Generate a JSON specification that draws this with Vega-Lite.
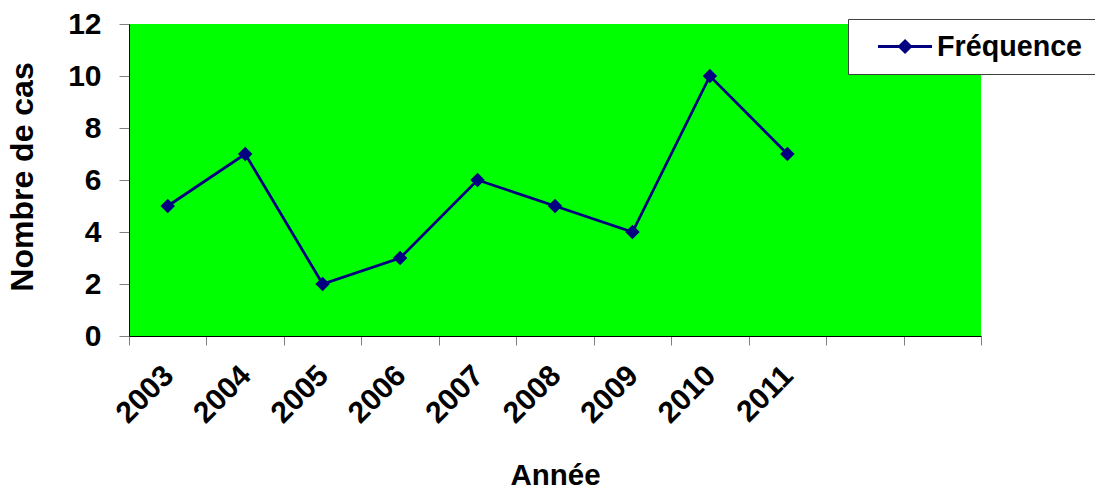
{
  "$schema": "https://vega.github.io/schema/vega-lite/v6.json",
  "width": 852,
  "height": 312,
  "autosize": {"type": "none"},
  "padding": {"left": 129, "top": 24, "right": 114, "bottom": 154},
  "background": "white",
  "config": {
    "font": "Liberation Sans",
    "view": {"fill": "#00FF00", "stroke": null}
  },
  "data": {
    "values": [
      {"annee": "2003", "cas": 5, "serie": "Fréquence"},
      {"annee": "2004", "cas": 7, "serie": "Fréquence"},
      {"annee": "2005", "cas": 2, "serie": "Fréquence"},
      {"annee": "2006", "cas": 3, "serie": "Fréquence"},
      {"annee": "2007", "cas": 6, "serie": "Fréquence"},
      {"annee": "2008", "cas": 5, "serie": "Fréquence"},
      {"annee": "2009", "cas": 4, "serie": "Fréquence"},
      {"annee": "2010", "cas": 10, "serie": "Fréquence"},
      {"annee": "2011", "cas": 7, "serie": "Fréquence"}
    ]
  },
  "mark": {
    "type": "line",
    "strokeWidth": 2.75,
    "point": {"filled": true, "shape": "diamond", "size": 210}
  },
  "encoding": {
    "x": {
      "field": "annee",
      "type": "ordinal",
      "scale": {
        "type": "band",
        "domain": ["2003", "2004", "2005", "2006", "2007", "2008", "2009", "2010", "2011", "2012", "2013"],
        "paddingInner": 0,
        "paddingOuter": 0
      },
      "axis": {
        "title": "Année",
        "labelExpr": "toNumber(datum.value) > 2011 ? '' : datum.label",
        "labelAngle": -45,
        "labelAlign": "right",
        "labelBaseline": "top",
        "labelOffset": -10,
        "labelPadding": 15,
        "labelFontSize": 30,
        "labelFontWeight": "bold",
        "labelColor": "black",
        "labelOverlap": false,
        "labelBound": false,
        "tickBand": "extent",
        "tickSize": 9,
        "tickColor": "#808080",
        "domainColor": "black",
        "grid": false,
        "titleFontSize": 29.5,
        "titleFontWeight": "bold",
        "titleColor": "black",
        "titleY": 148,
        "titleBaseline": "alphabetic"
      }
    },
    "y": {
      "field": "cas",
      "type": "quantitative",
      "scale": {"domain": [0, 12], "nice": false},
      "axis": {
        "title": "Nombre de cas",
        "values": [0, 2, 4, 6, 8, 10, 12],
        "labelFontSize": 30,
        "labelFontWeight": "bold",
        "labelColor": "black",
        "labelPadding": 18,
        "tickSize": 10,
        "tickColor": "#808080",
        "domainColor": "black",
        "grid": false,
        "titleFontSize": 32,
        "titleFontWeight": "bold",
        "titleColor": "black",
        "titleX": -107,
        "titleY": 152.5,
        "titleBaseline": "middle"
      }
    },
    "color": {
      "field": "serie",
      "type": "nominal",
      "scale": {"range": ["#000080"]},
      "legend": {
        "orient": "none",
        "legendX": 719,
        "legendY": -5,
        "title": null,
        "padding": 12,
        "fillColor": "white",
        "strokeColor": "#404040",
        "symbolType": "M0.18,0H4.04M2.11,-0.39L2.5,0L2.11,0.39L1.72,0Z",
        "symbolSize": 784,
        "symbolStrokeWidth": 3,
        "symbolFillColor": "#000080",
        "symbolStrokeColor": "#000080",
        "labelOffset": 46,
        "labelFontSize": 28.7,
        "labelFontWeight": "bold",
        "labelColor": "black",
        "labelLimit": 300
      }
    }
  }
}
